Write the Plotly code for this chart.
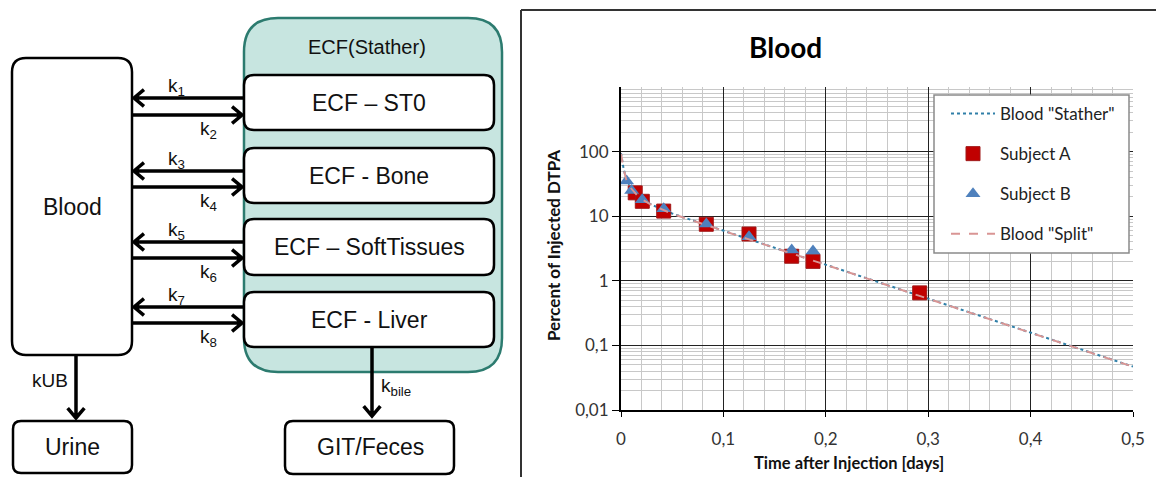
import math
import plotly.graph_objects as go

W, H = 1156, 477

# ---------------- data ----------------
time_A = [0.0139, 0.0208, 0.0417, 0.0833, 0.125, 0.1667, 0.1875, 0.2917]
pct_A = [23, 17, 12, 7.5, 5.3, 2.4, 2.0, 0.65]

time_B = [0.0055, 0.0104, 0.0208, 0.0417, 0.0833, 0.125, 0.1667, 0.1875]
pct_B = [35, 25, 18, 13, 7.6, 4.8, 3.0, 2.9]

time_curve = [0, 0.0025, 0.005, 0.01, 0.015, 0.02, 0.03, 0.04, 0.05, 0.075,
              0.1, 0.125, 0.15, 0.2, 0.25, 0.3, 0.35, 0.4, 0.45, 0.5]
pct_stather = [95, 55, 38, 27, 22, 18.5, 15, 12.8, 11, 8.1,
               5.9, 4.4, 3.25, 1.78, 0.97, 0.53, 0.29, 0.157, 0.086, 0.047]
pct_split = [93, 54, 37.5, 26.8, 21.8, 18.4, 14.9, 12.7, 10.9, 8.05,
             5.88, 4.38, 3.24, 1.77, 0.965, 0.528, 0.289, 0.156, 0.0858, 0.0468]

x_tickvals = [0, 0.1, 0.2, 0.3, 0.4, 0.5]
x_ticktext = ["0", "0,1", "0,2", "0,3", "0,4", "0,5"]
y_tickvals = [0.01, 0.1, 1, 10, 100]
y_ticktext = ["0,01", "0,1", "1", "10", "100"]

# diagram labels
diagram_boxes = ["ECF \u2013 ST0", "ECF - Bone", "ECF \u2013 SoftTissues", "ECF - Liver"]

# ---------------- helpers (pixel -> paper) ----------------
def px(x):
    return x / W

def py(y):
    return 1 - y / H

def P(x, y):
    return f"{px(x):.5f},{py(y):.5f}"

def rrect(x0, y0, x1, y1, r):
    return (f"M {P(x0 + r, y0)} L {P(x1 - r, y0)} Q {P(x1, y0)} {P(x1, y0 + r)} "
            f"L {P(x1, y1 - r)} Q {P(x1, y1)} {P(x1 - r, y1)} "
            f"L {P(x0 + r, y1)} Q {P(x0, y1)} {P(x0, y1 - r)} "
            f"L {P(x0, y0 + r)} Q {P(x0, y0)} {P(x0 + r, y0)} Z")

def arrow_path(x0, y0, x1, y1, head=13, ang=40):
    dx, dy = x1 - x0, y1 - y0
    L = math.hypot(dx, dy)
    ux, uy = dx / L, dy / L
    a = math.radians(ang)
    def rot(vx, vy, t):
        return vx * math.cos(t) - vy * math.sin(t), vx * math.sin(t) + vy * math.cos(t)
    b1 = rot(-ux, -uy, a)
    b2 = rot(-ux, -uy, -a)
    return (f"M {P(x0, y0)} L {P(x1, y1)} "
            f"M {P(x1 + b1[0] * head, y1 + b1[1] * head)} L {P(x1, y1)} "
            f"L {P(x1 + b2[0] * head, y1 + b2[1] * head)}")

shapes = []
annotations = []

# ---------------- diagram ----------------
DFONT = "Liberation Sans, Arial, sans-serif"
shapes.append(dict(type="path", xref="paper", yref="paper", path=rrect(244, 18, 502, 372, 34),
                   fillcolor="#c7e5e0", line=dict(color="#2c7b6f", width=2.5), layer="above"))
shapes.append(dict(type="path", xref="paper", yref="paper", path=rrect(12, 58, 132, 355, 14),
                   fillcolor="white", line=dict(color="black", width=2.5), layer="above"))
box_y = [(75, 130), (148, 203), (219, 275), (292, 347)]
for (y0, y1), label in zip(box_y, diagram_boxes):
    shapes.append(dict(type="path", xref="paper", yref="paper", path=rrect(244, y0, 494, y1, 10),
                       fillcolor="white", line=dict(color="black", width=2.5), layer="above"))
    annotations.append(dict(x=px(369), y=py((y0 + y1) / 2), xref="paper", yref="paper",
                            text=label, showarrow=False, xanchor="center", yanchor="middle",
                            font=dict(family=DFONT, size=23, color="#111")))
shapes.append(dict(type="path", xref="paper", yref="paper", path=rrect(13, 421, 132, 473, 8),
                   fillcolor="white", line=dict(color="black", width=2.5), layer="above"))
shapes.append(dict(type="path", xref="paper", yref="paper", path=rrect(285, 421, 454, 474, 8),
                   fillcolor="white", line=dict(color="black", width=2.5), layer="above"))

for txt, x, y, sz in [("Blood", 72, 207, 23), ("ECF(Stather)", 367, 47, 20),
                      ("Urine", 72, 447, 23), ("GIT/Feces", 370, 447, 23)]:
    annotations.append(dict(x=px(x), y=py(y), xref="paper", yref="paper", text=txt,
                            showarrow=False, xanchor="center", yanchor="middle",
                            font=dict(family=DFONT, size=sz, color="#111")))

pairs = [(98, 115), (171, 187), (242, 258), (307, 323)]
k_labels = [("1", "2"), ("3", "4"), ("5", "6"), ("7", "8")]
for (yl, yr), (kl, kr) in zip(pairs, k_labels):
    shapes.append(dict(type="path", xref="paper", yref="paper", path=arrow_path(244, yl, 134, yl),
                       line=dict(color="black", width=3.5), layer="above"))
    shapes.append(dict(type="path", xref="paper", yref="paper", path=arrow_path(132, yr, 242, yr),
                       line=dict(color="black", width=3.5), layer="above"))
    annotations.append(dict(x=px(177), y=py(yl - 11), xref="paper", yref="paper",
                            text=f"k<sub>{kl}</sub>", showarrow=False, xanchor="center",
                            yanchor="middle", font=dict(family=DFONT, size=19, color="#111")))
    annotations.append(dict(x=px(208), y=py(yr + 15), xref="paper", yref="paper",
                            text=f"k<sub>{kr}</sub>", showarrow=False, xanchor="center",
                            yanchor="middle", font=dict(family=DFONT, size=19, color="#111")))

shapes.append(dict(type="path", xref="paper", yref="paper", path=arrow_path(76, 355, 76, 418),
                   line=dict(color="black", width=3.5), layer="above"))
shapes.append(dict(type="path", xref="paper", yref="paper", path=arrow_path(372, 347, 372, 416),
                   line=dict(color="black", width=3.5), layer="above"))
annotations.append(dict(x=px(50), y=py(380), xref="paper", yref="paper", text="kUB",
                        showarrow=False, xanchor="center", yanchor="middle",
                        font=dict(family=DFONT, size=19, color="#111")))
annotations.append(dict(x=px(379), y=py(387), xref="paper", yref="paper", text="k<sub>bile</sub>",
                        showarrow=False, xanchor="left", yanchor="middle",
                        font=dict(family=DFONT, size=19, color="#111")))

# chart frame
shapes.append(dict(type="line", xref="paper", yref="paper", x0=px(521), x1=1, y0=py(10), y1=py(10),
                   line=dict(color="#333", width=2)))
shapes.append(dict(type="line", xref="paper", yref="paper", x0=px(521), x1=px(521), y0=py(10), y1=0,
                   line=dict(color="#333", width=2)))

# legend box
shapes.append(dict(type="rect", xref="paper", yref="paper", x0=px(934), x1=px(1129),
                   y0=py(253), y1=py(95), fillcolor="white",
                   line=dict(color="#8a8a8a", width=1.5), layer="above"))

# ---------------- chart ----------------
CFONT = "Lato, Open Sans, sans-serif"
fig = go.Figure()
fig.add_trace(go.Scatter(x=time_curve, y=pct_stather, mode="lines", name='Blood "Stather"',
                         line=dict(color="#2f7fa8", width=2, dash="dot"), legendgroup="a"))
fig.add_trace(go.Scatter(x=time_A, y=pct_A, mode="markers", name="Subject A",
                         marker=dict(symbol="square", size=14, color="#c00000",
                                     line=dict(color="#a01818", width=1)), legendgroup="b"))
fig.add_trace(go.Scatter(x=time_B, y=pct_B, mode="markers", name="Subject B",
                         marker=dict(symbol="triangle-up", size=13, color="#4f81bd",
                                     line=dict(width=0)), legendgroup="c"))
fig.add_trace(go.Scatter(x=time_curve, y=pct_split, mode="lines", name='Blood "Split"',
                         line=dict(color="#d99594", width=2, dash="dash"), legendgroup="d"))

minor_y = [k * 10 ** n for n in range(-2, 3) for k in range(2, 10)]

annotations.append(dict(x=px(785), y=py(47), xref="paper", yref="paper", text="<b>Blood</b>",
                        showarrow=False, xanchor="center", yanchor="middle",
                        font=dict(family=CFONT, size=28, color="black")))
annotations.append(dict(x=px(849), y=py(463), xref="paper", yref="paper",
                        text="<b>Time after Injection [days]</b>", showarrow=False,
                        xanchor="center", yanchor="middle",
                        font=dict(family=CFONT, size=16.5, color="#111")))
annotations.append(dict(x=px(553), y=py(246), xref="paper", yref="paper",
                        text="<b>Percent of Injected DTPA</b>", showarrow=False, textangle=-90,
                        xanchor="center", yanchor="middle",
                        font=dict(family=CFONT, size=17, color="#111")))

fig.update_layout(
    width=W, height=H,
    margin=dict(l=0, r=0, t=0, b=0, pad=0, autoexpand=False),
    paper_bgcolor="white", plot_bgcolor="white",
    showlegend=True,
    legend=dict(x=px(946), y=py(96), xanchor="left", yanchor="top",
                bgcolor="rgba(0,0,0,0)", borderwidth=0, tracegroupgap=15, itemwidth=44,
                traceorder="grouped", font=dict(family=CFONT, size=17, color="#222")),
    xaxis=dict(domain=[px(621), px(1133)], range=[0, 0.5], tickvals=x_tickvals,
               ticktext=x_ticktext, showgrid=True, gridcolor="#222", gridwidth=1,
               showline=True, linecolor="black", linewidth=2, ticks="outside", ticklen=5,
               tickcolor="black", zeroline=False, automargin=False, ticklabelstandoff=8,
               tickfont=dict(family=CFONT, size=17, color="#333"),
               minor=dict(dtick=0.02, showgrid=True, gridcolor="#c8c8c8", gridwidth=1)),
    yaxis=dict(domain=[py(410), py(87)], type="log", range=[-2, 3], tickvals=y_tickvals,
               ticktext=y_ticktext, showgrid=True, gridcolor="#222", gridwidth=1,
               showline=True, linecolor="black", linewidth=2, ticks="outside", ticklen=7,
               tickcolor="black", zeroline=False, automargin=False,
               tickfont=dict(family=CFONT, size=17, color="#333"),
               minor=dict(tickmode="array", tickvals=minor_y, showgrid=True,
                          gridcolor="#c8c8c8", gridwidth=1)),
    shapes=shapes,
    annotations=annotations,
)

fig.write_html("out.html",
               config={"displayModeBar": False},
               post_script="document.body.style.margin='0px';document.body.style.overflow='hidden';")
